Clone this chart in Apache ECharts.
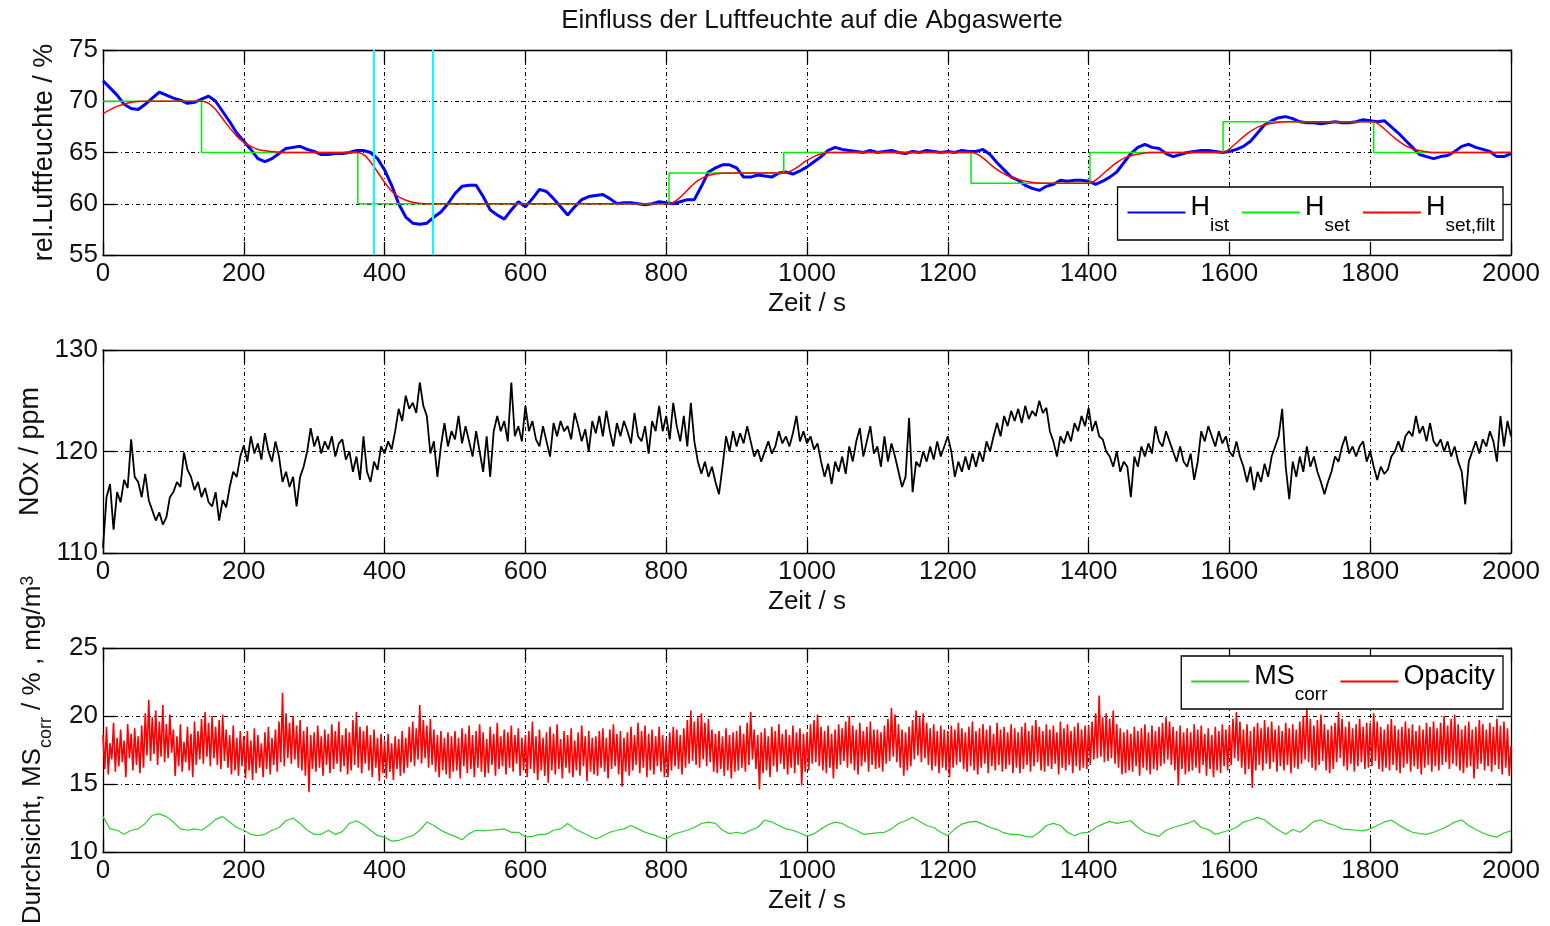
<!DOCTYPE html>
<html>
<head>
<meta charset="utf-8">
<script src="https://cdn.jsdelivr.net/npm/echarts@6/dist/echarts.min.js"></script>
<style>html,body{margin:0;padding:0;background:#fff}#c{width:1550px;height:926px}</style>
</head>
<body>
<div id="c"></div>
<script>
// ---------------- data ----------------
const titleText = 'Einfluss der Luftfeuchte auf die Abgaswerte';
const xName = 'Zeit / s';
const cursorTimes = [384, 469];

// H_ist, sampled every 10 s
const histStep = 10;
const hist = [
72.0,71.3,70.6,69.7,69.3,69.2,69.7,70.3,70.9,70.6,
70.3,70.1,69.8,69.9,70.2,70.5,70.0,69.0,68.0,66.9,
66.1,65.3,64.4,64.1,64.4,64.9,65.4,65.5,65.6,65.3,
65.1,64.8,64.8,64.9,64.9,65.0,65.2,65.2,65.0,64.4,
63.3,61.8,60.0,58.7,58.1,58.0,58.1,58.7,59.2,60.0,
61.0,61.7,61.8,61.8,60.7,59.4,58.9,58.5,59.4,60.2,
59.7,60.5,61.4,61.2,60.5,59.7,58.9,59.7,60.4,60.7,
60.8,60.9,60.5,60.0,60.1,60.1,60.0,59.9,60.0,60.2,
60.1,60.0,60.2,60.4,60.4,61.7,63.1,63.5,63.8,63.8,
63.5,62.6,62.6,62.8,62.7,62.6,63.0,63.1,62.9,63.2,
63.6,64.1,64.6,65.2,65.5,65.3,65.2,65.1,65.0,65.2,
65.0,65.1,65.2,65.0,64.9,65.1,65.0,65.2,65.1,65.0,
65.1,65.0,65.2,65.1,65.1,65.3,64.8,64.0,63.3,62.6,
62.3,61.8,61.5,61.3,61.7,61.9,62.3,62.2,62.3,62.3,
62.2,61.9,62.2,62.6,63.1,64.0,64.9,65.5,65.8,65.5,
65.4,64.9,64.6,64.8,65.0,65.1,65.2,65.2,65.1,65.0,
65.1,65.3,65.6,66.1,66.9,67.7,68.1,68.4,68.5,68.3,
68.0,67.9,67.9,67.8,67.9,68.0,67.9,67.9,68.0,68.2,
68.1,68.0,68.1,67.5,66.9,66.2,65.5,64.8,64.6,64.4,
64.6,64.7,65.1,65.6,65.8,65.5,65.3,65.1,64.6,64.6,
64.9];

// H_set step changes: [time, value]
const hsetTimes  = [0, 140, 140, 362, 362, 804, 804, 967, 967, 1233, 1233, 1402, 1402, 1591, 1591, 1805, 1805, 2000];
const hsetValues = [70, 70, 65, 65, 60, 60, 63, 63, 65, 65, 62, 62, 65, 65, 68, 68, 65, 65];

// H_set,filt read points
const filtTimes  = [0,20,40,60,140,150,160,170,180,190,200,210,220,240,260,362,372,382,392,402,412,422,437,457,804,814,824,834,844,854,869,889,967,977,987,997,1007,1017,1032,1233,1243,1253,1263,1273,1283,1298,1318,1338,1402,1412,1422,1432,1442,1452,1467,1487,1591,1601,1611,1621,1631,1641,1656,1681,1805,1815,1825,1835,1845,1855,1870,1890,2000];
const filtValues = [68.8,69.5,69.9,70,70,69.8,69.2,68.3,67.4,66.6,66.0,65.6,65.3,65.1,65.0,65,64.7,63.9,62.9,61.9,61.1,60.6,60.2,60.0,60,60.3,60.9,61.6,62.2,62.6,62.9,63.0,63,63.2,63.6,64.1,64.5,64.8,65,65,64.8,64.3,63.7,63.2,62.8,62.4,62.1,62.0,62,62.4,63.0,63.6,64.1,64.5,64.8,65,65,65.4,66.0,66.6,67.1,67.5,67.8,68,68,67.6,67.0,66.4,65.9,65.5,65.2,65.0,65];

// NOx, sampled every 5 s
const noxStep = 5;
const nox = [
110.5,115.5,116.8,112.3,116.0,115.0,117.2,116.4,121.2,117.5,117.0,115.5,117.8,115.2,114.2,113.2,114.0,112.8,113.5,115.5,
116.0,117.0,116.5,119.9,118.2,117.5,116.2,117.0,115.5,116.4,115.0,114.6,116.0,113.2,115.2,114.5,116.5,118.0,117.5,119.5,
120.6,119.0,121.5,119.8,120.8,119.2,121.8,120.0,119.0,121.0,119.5,117.0,118.0,116.5,117.5,114.6,117.5,118.5,120.0,122.3,
120.5,121.5,119.8,121.0,120.2,121.5,119.5,120.8,121.2,119.2,120.0,118.0,119.5,117.2,121.5,118.0,117.0,119.0,118.2,120.5,
119.8,121.0,120.2,122.0,124.2,123.0,125.5,124.2,124.8,123.8,126.8,124.5,123.5,119.8,121.0,117.5,120.5,122.8,120.5,122.0,
121.2,123.5,120.8,122.5,121.0,119.5,122.0,120.0,118.0,121.5,117.5,122.0,123.5,122.0,123.0,121.0,126.8,121.5,122.5,121.0,
124.5,122.0,123.0,121.2,120.5,122.5,121.0,119.5,122.8,121.5,123.0,122.0,122.5,121.2,123.8,122.5,121.0,122.2,120.0,123.0,
121.8,123.5,121.5,124.0,122.0,120.5,122.8,121.5,123.0,122.0,120.8,123.8,121.5,121.0,122.5,119.8,123.0,122.0,124.5,122.0,
123.5,121.2,124.8,122.5,121.0,123.5,120.5,124.8,121.0,119.0,117.8,119.0,117.5,118.5,117.0,115.8,118.5,121.5,120.0,122.0,
120.5,121.8,120.8,122.5,121.0,119.5,120.2,119.0,120.0,121.0,119.8,120.5,122.0,120.8,121.5,120.5,121.8,123.5,121.0,122.0,
120.8,121.5,120.2,120.8,119.0,117.5,118.8,116.8,119.0,118.0,119.5,117.8,120.5,119.0,121.0,122.3,119.5,121.0,122.5,119.8,
120.5,118.5,121.5,119.0,120.8,119.5,118.0,116.5,117.5,123.3,116.0,119.0,118.5,120.0,119.0,120.5,119.2,121.0,119.5,120.5,
121.5,120.0,117.5,119.0,118.0,119.5,118.2,119.8,118.5,120.0,119.0,121.0,120.0,121.5,122.8,121.5,123.5,122.5,124.0,123.0,
124.2,122.8,124.5,123.2,124.0,123.5,125.0,123.8,124.3,122.0,121.0,119.5,121.5,120.8,122.0,121.0,122.8,122.0,123.5,122.5,
124.3,122.0,123.0,121.5,121.2,120.0,119.5,118.5,120.0,118.0,119.0,118.5,115.5,119.5,118.5,120.5,119.5,120.8,119.8,122.5,
121.0,120.5,122.0,121.0,120.0,119.0,120.5,119.0,118.5,119.8,117.2,119.0,122.0,121.0,122.5,121.5,120.5,122.0,120.8,121.5,
120.0,119.5,121.0,119.5,118.5,117.0,118.5,116.2,118.0,117.0,118.8,117.5,119.5,120.5,121.5,124.2,118.5,115.3,119.0,117.5,
119.5,118.0,120.5,118.5,119.5,118.0,117.0,115.8,117.0,118.0,119.5,119.0,120.5,121.5,119.8,120.5,119.5,120.5,121.0,119.0,
120.0,118.5,117.2,118.5,117.8,118.2,119.5,120.0,121.0,120.0,121.5,122.0,121.5,123.5,121.8,122.5,121.0,122.8,121.0,120.5,
121.2,120.0,121.0,119.5,120.5,119.0,118.0,114.8,119.0,120.0,121.0,119.8,121.2,120.5,122.0,121.0,119.0,123.5,120.5,123.0,
121.5];

// Opacity, sampled every 2.5 s
const opacityStep = 2.5;
const opacity = [
18.6,16.1,19.2,15.7,18.0,16.8,19.5,15.9,18.4,16.3,19.0,16.6,18.2,15.5,19.4,16.9,18.7,16.0,19.1,16.4,
18.5,15.8,19.3,16.2,20.2,17.1,21.2,16.7,19.9,17.2,20.4,16.4,19.6,17.0,20.8,16.6,19.4,16.9,20.1,17.3,
19.0,15.6,18.5,16.3,19.4,15.9,18.1,16.6,19.2,16.0,18.7,15.5,19.6,16.4,18.9,16.8,19.8,16.5,20.3,17.0,
19.5,16.3,20.0,16.9,19.2,16.4,19.7,16.1,20.1,16.7,19.0,16.2,18.6,15.7,19.3,16.0,18.4,15.6,18.9,16.3,
18.5,15.4,18.9,16.0,18.2,15.3,19.1,15.8,18.6,16.2,18.0,15.5,18.8,16.1,19.2,15.7,18.4,16.4,19.0,15.9,
19.6,16.6,21.7,16.3,20.2,16.9,19.5,16.5,20.0,16.8,19.3,16.2,19.7,16.0,18.9,15.6,19.2,14.4,18.6,16.1,
18.8,15.9,19.3,16.2,18.5,15.6,19.0,16.4,18.7,15.8,19.4,16.1,18.9,16.5,19.6,15.9,18.6,16.3,19.1,15.7,
18.8,16.0,19.7,16.4,20.3,16.2,19.2,15.8,18.9,16.5,19.3,16.0,18.6,15.5,19.0,16.2,18.4,15.2,18.7,15.8,
18.2,15.4,18.7,15.9,18.0,15.3,18.5,16.1,18.3,15.6,18.9,15.8,18.4,16.2,19.2,16.6,19.6,16.3,19.1,16.8,
20.8,16.5,19.7,16.9,19.3,16.2,19.8,16.4,19.0,15.9,18.6,15.5,18.9,16.0,18.4,15.7,18.8,15.4,18.5,15.9,
18.9,16.0,18.4,15.4,19.1,16.3,18.7,15.8,19.3,16.1,18.6,15.5,18.9,16.2,19.4,15.9,18.8,15.5,18.3,15.8,
19.2,16.4,18.7,15.6,19.5,16.1,18.5,16.3,19.0,15.7,18.8,16.2,19.3,15.9,18.6,16.5,19.1,15.6,18.4,16.0,
18.6,15.5,18.9,16.1,19.6,15.8,18.5,15.3,19.0,16.0,18.4,15.6,18.8,15.1,19.2,16.0,18.7,15.7,19.4,16.1,
18.3,15.4,18.9,16.2,18.6,15.8,19.1,15.5,18.2,16.0,18.8,15.6,19.3,16.3,18.5,15.2,18.9,15.9,18.4,15.7,
18.5,15.6,18.9,16.2,19.1,15.9,18.4,15.4,19.0,16.1,19.4,16.3,18.7,15.7,18.9,14.8,18.4,15.9,18.8,15.6,
19.2,16.0,18.6,16.4,19.5,15.8,18.9,16.2,19.3,15.5,18.7,16.0,19.0,15.7,18.5,16.3,19.2,15.9,18.6,15.5,
18.3,15.5,18.8,16.0,19.2,16.3,19.0,16.1,18.6,15.7,19.1,16.2,19.7,16.5,20.4,16.7,19.6,16.4,19.9,16.2,
20.2,16.8,19.5,16.3,19.8,16.6,19.0,15.9,18.7,15.8,18.9,16.1,18.5,15.6,19.1,16.0,18.6,15.4,18.8,15.9,
18.9,16.0,19.3,16.2,18.7,15.9,19.5,16.4,20.3,16.8,19.0,16.1,18.6,14.6,18.8,15.8,19.1,16.0,18.5,15.5,
19.2,16.3,18.9,15.9,19.4,16.5,18.7,16.1,19.0,15.7,18.6,16.2,19.3,15.8,18.8,16.4,19.1,14.9,18.7,15.9,
18.8,16.0,19.4,16.5,19.7,16.6,20.1,16.3,19.2,16.0,18.9,15.8,19.3,16.2,18.7,15.4,19.0,16.1,19.4,16.4,
19.1,16.7,19.6,16.2,20.0,16.5,19.3,16.0,19.0,15.7,19.5,16.3,18.9,16.6,19.2,15.9,19.6,16.4,19.0,16.1,
19.0,16.2,18.8,15.9,19.3,16.5,19.8,16.7,20.6,17.0,20.1,16.6,19.4,16.2,19.0,15.6,18.8,16.0,19.2,16.3,
19.7,16.8,20.4,17.1,19.9,16.6,20.2,16.9,19.5,16.4,19.1,16.0,19.4,16.3,18.9,15.8,19.3,16.2,19.0,16.0,
18.9,15.5,19.3,16.2,19.0,16.4,19.5,16.6,19.1,16.1,18.8,15.9,19.2,16.3,19.6,16.0,18.9,15.7,19.1,16.2,
19.4,16.5,19.0,15.8,19.3,16.3,18.7,16.0,19.5,16.4,19.0,15.9,19.2,16.1,18.8,16.4,19.4,15.8,19.1,16.2,
18.8,15.8,19.2,16.1,19.5,16.4,18.9,15.9,19.3,16.3,19.7,16.6,19.2,16.0,18.9,15.9,19.4,16.3,19.0,16.1,
19.3,16.5,18.8,15.7,19.6,16.2,19.1,16.0,19.4,16.4,18.9,15.8,19.2,16.3,19.5,16.0,19.0,16.2,19.3,16.1,
19.3,16.4,19.6,16.8,20.2,16.9,21.5,17.0,19.9,16.6,20.2,16.7,19.8,16.9,20.4,16.5,19.4,16.2,19.1,15.7,
18.8,15.8,19.0,16.0,18.7,15.9,19.2,16.3,18.9,15.6,19.1,16.2,19.4,16.0,18.8,15.7,19.3,16.1,18.9,16.0,
19.2,16.3,19.5,16.5,19.9,16.8,19.6,16.4,19.2,16.0,18.9,14.9,19.3,16.1,18.8,15.7,19.1,15.9,18.8,16.0,
19.4,16.2,19.0,15.8,19.3,16.4,18.7,15.6,19.1,16.1,18.6,15.5,19.2,16.0,18.9,15.8,19.4,16.3,19.0,16.0,
19.3,16.4,19.8,16.9,20.3,16.7,19.6,16.2,19.0,15.7,19.4,16.1,18.9,14.7,19.2,16.0,19.5,16.4,19.1,16.0,
19.7,16.5,19.2,16.1,19.6,16.6,19.0,15.9,19.3,16.3,18.9,16.0,19.5,16.4,19.1,15.8,19.4,16.2,19.0,16.1,
19.6,16.5,20.0,16.8,20.6,16.6,19.8,16.2,19.3,16.0,19.7,16.4,20.1,16.7,19.4,16.0,19.0,15.8,19.3,16.1,
19.5,16.6,20.3,16.9,19.8,16.3,19.2,16.0,19.6,16.5,19.1,15.9,19.4,16.3,19.8,16.6,19.2,16.1,19.5,16.2,
19.5,16.3,20.2,16.7,19.6,16.1,19.2,15.9,19.0,16.2,19.4,16.0,19.8,16.4,19.3,16.0,19.0,15.8,19.2,16.2,
19.6,16.5,19.1,15.9,19.4,16.3,18.9,16.1,19.3,15.7,19.0,16.2,19.5,16.4,19.2,15.9,19.6,16.3,19.1,16.0,
19.5,16.4,20.0,16.6,19.3,16.1,19.8,16.5,20.1,16.3,19.4,16.0,19.0,15.8,19.3,16.2,19.6,16.3,19.0,15.4,
19.2,16.1,19.7,16.5,19.4,16.0,19.0,16.3,19.5,15.9,19.2,16.4,19.8,16.1,19.3,15.7,19.6,16.2,19.1,15.6,
17.8];

// MS_corr, sampled every 10 s
const msStep = 10;
const msCorr = [
12.6,11.7,11.6,11.3,11.6,11.7,12.1,12.7,12.8,12.6,
12.2,11.7,11.6,11.7,11.6,11.95,12.4,12.6,12.2,11.8,
11.6,11.3,11.2,11.3,11.6,11.8,12.3,12.5,12.1,11.6,
11.3,11.3,11.6,11.3,11.5,12.1,12.3,12.0,11.6,11.2,
11.1,10.8,10.85,11.05,11.2,11.6,12.2,11.95,11.6,11.35,
11.15,10.9,11.35,11.6,11.55,11.6,11.65,11.7,11.45,11.45,
11.1,11.15,11.3,11.3,11.6,11.7,12.1,11.7,11.45,11.2,
10.95,11.2,11.45,11.6,11.7,11.95,11.7,11.45,11.3,11.1,
10.95,11.3,11.45,11.6,11.8,12.1,12.2,12.1,11.6,11.35,
11.45,11.35,11.6,11.8,12.35,12.2,11.95,11.7,11.6,11.4,
11.15,11.35,11.7,12.0,12.2,12.1,11.8,11.6,11.3,11.35,
11.4,11.45,11.7,12.1,12.3,12.55,12.25,11.95,11.8,11.45,
11.2,11.7,12.05,12.2,12.25,12.05,11.8,11.65,11.4,11.3,
11.3,11.15,11.1,11.45,11.95,12.1,11.95,11.45,11.2,11.4,
11.45,11.8,12.05,12.25,12.1,12.2,12.3,11.8,11.45,11.3,
11.15,11.6,11.8,11.95,12.1,12.3,11.8,11.65,11.3,11.45,
11.6,11.8,12.2,12.35,12.55,12.35,11.95,11.6,11.3,11.65,
11.45,11.8,12.25,12.35,12.1,11.95,11.7,11.65,11.6,11.55,
11.7,11.95,12.2,12.35,12.0,11.7,11.45,11.35,11.3,11.45,
11.65,11.9,12.2,12.35,11.95,11.65,11.4,11.2,11.1,11.4,
11.55];

// ---------------- chart ----------------
const FONT = '"Liberation Sans", Arial, Helvetica, sans-serif';
const toPairs = (arr, step) => arr.map((v, i) => [i * step, v]);
const zip = (xs, ys) => xs.map((x, i) => [x, ys[i]]);

const grids = [
  {left: 103, top: 50, width: 1408, height: 205, containLabel: false, outerBoundsMode: 'none'},
  {left: 103, top: 350, width: 1408, height: 203, containLabel: false, outerBoundsMode: 'none'},
  {left: 103, top: 648, width: 1408, height: 204, containLabel: false, outerBoundsMode: 'none'}
];

const gridLine = {show: true, lineStyle: {color: '#000', width: 1, type: [4, 3, 1, 3]}};
const tick = {show: true, inside: true, length: 13, lineStyle: {color: '#000', width: 1.3}};
const axLine = {show: true, onZero: false, lineStyle: {color: '#000', width: 1.3}};
const lbl = {color: '#111', fontSize: 26, fontFamily: FONT, formatter: v => String(v)};

const xAxes = [], yAxes = [];
const yCfg = [
  {min: 55, max: 75, interval: 5, name: 'rel.Luftfeuchte / %', gap: 41, fs: 27},
  {min: 110, max: 130, interval: 10, name: 'NOx / ppm', gap: 59, fs: 27},
  {min: 10, max: 25, interval: 5, name: 'Durchsicht, MS{sub|corr} / % , mg/m{sup|3}', gap: 48, fs: 26}
];
for (let g = 0; g < 3; g++) {
  xAxes.push({
    type: 'value', gridIndex: g, min: 0, max: 2000, interval: 200, position: 'bottom',
    axisLine: axLine, axisTick: tick, splitLine: gridLine,
    axisLabel: Object.assign({margin: 6, showMinLabel: true, showMaxLabel: true}, lbl),
    name: xName, nameLocation: 'middle', nameGap: 36,
    nameTextStyle: {color: '#111', fontSize: 26, fontFamily: FONT}
  });
  xAxes.push({
    type: 'value', gridIndex: g, min: 0, max: 2000, interval: 200, position: 'top',
    axisLine: axLine, axisTick: tick, splitLine: {show: false}, axisLabel: {show: false}
  });
  const c = yCfg[g];
  yAxes.push({
    type: 'value', gridIndex: g, min: c.min, max: c.max, interval: c.interval, position: 'left',
    axisLine: axLine, axisTick: tick, splitLine: gridLine,
    axisLabel: Object.assign({margin: 5}, lbl),
    name: c.name, nameLocation: 'middle', nameGap: c.gap, nameRotate: 90,
    nameTextStyle: {color: '#111', fontSize: c.fs, fontFamily: FONT,
      rich: {sub: {fontSize: 18, fontFamily: FONT, color: '#111', padding: [27, 0, 0, 0]},
             sup: {fontSize: 18, fontFamily: FONT, color: '#111', padding: [0, 0, 8, 0]}}}
  });
  yAxes.push({
    type: 'value', gridIndex: g, min: c.min, max: c.max, interval: c.interval, position: 'right',
    axisLine: axLine, axisTick: tick, splitLine: {show: false}, axisLabel: {show: false}
  });
}

const lineS = (name, data, color, width, xi, yi, extra) => Object.assign({
  name, type: 'line', data, xAxisIndex: xi, yAxisIndex: yi, showSymbol: false, symbol: 'none',
  itemStyle: {color}, lineStyle: {color, width}, emphasis: {disabled: true}, silent: true
}, extra || {});

const legendFmt = name => {
  const i = name.indexOf('_');
  if (i < 0) return '{m|' + name + '}';
  return '{m|' + name.slice(0, i) + '}{s|' + name.slice(i + 1) + '}';
};
const legendText = {
  color: '#000', fontFamily: FONT,
  rich: {
    m: {fontSize: 27, fontFamily: FONT, color: '#000', padding: [0, 0, 10, 0]},
    s: {fontSize: 19, fontFamily: FONT, color: '#000', padding: [26, 0, 0, 0]}
  }
};
const legendBox = {
  icon: 'rect', itemWidth: 58, itemHeight: 2, itemGap: 13, formatter: legendFmt, textStyle: legendText,
  backgroundColor: '#fff', borderColor: '#000', borderWidth: 1.3, borderRadius: 0,
  padding: [7, 8, 5, 10], selectedMode: false
};

const option = {
  animation: false,
  backgroundColor: '#fff',
  title: {text: titleText, left: 807, top: 3, textAlign: 'center',
    textStyle: {fontSize: 26, fontWeight: 'normal', color: '#111', fontFamily: FONT}},
  grid: grids,
  xAxis: xAxes,
  yAxis: yAxes,
  legend: [
    Object.assign({data: ['H_ist', 'H_set', 'H_set,filt'], right: 47, top: 187}, legendBox),
    Object.assign({data: ['MS_corr', 'Opacity'], right: 47, top: 656}, legendBox)
  ],
  series: [
    lineS('H_ist', toPairs(hist, histStep), '#0000ff', 3, 0, 0),
    lineS('H_set', zip(hsetTimes, hsetValues), '#00ee00', 1.5, 0, 0),
    lineS('H_set,filt', zip(filtTimes, filtValues), '#ff0000', 1.5, 0, 0, {
      smooth: 0.3,
      markLine: {silent: true, symbol: ['none', 'none'], label: {show: false},
        lineStyle: {color: '#00ffff', width: 2, type: 'solid'},
        data: cursorTimes.map(t => ({xAxis: t}))}
    }),
    lineS('NOx', toPairs(nox, noxStep), '#000000', 1.8, 2, 2),
    lineS('MS_corr', toPairs(msCorr, msStep), '#33cc33', 1.2, 4, 4),
    lineS('Opacity', toPairs(opacity, opacityStep), '#ff0000', 1.6, 4, 4)
  ]
};

const chart = echarts.init(document.getElementById('c'), null, {renderer: 'canvas'});
chart.setOption(option);
</script>
</body>
</html>
